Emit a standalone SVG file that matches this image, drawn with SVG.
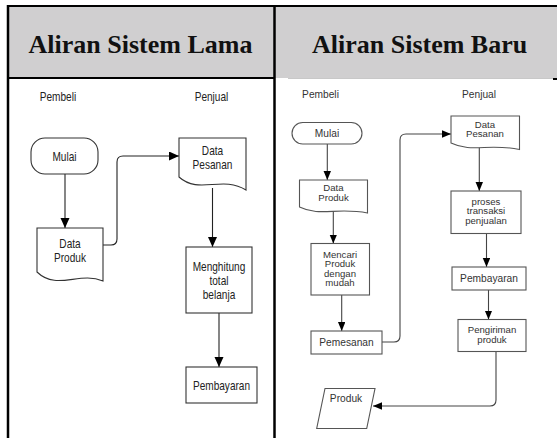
<svg xmlns="http://www.w3.org/2000/svg" width="557" height="438" viewBox="0 0 557 438">
<defs>
<style>
.hdr{font-family:"Liberation Serif","Times New Roman",serif;font-weight:bold;font-size:26px;fill:#111;text-anchor:middle}
.ot{font-family:"Liberation Sans",Arial,sans-serif;font-size:12.2px;fill:#222;text-anchor:middle}
.nt{font-family:"Liberation Sans",Arial,sans-serif;font-size:10.2px;fill:#333;text-anchor:middle}
.nm{font-size:9.6px}
.ob{fill:#fff;stroke:#333;stroke-width:1.1}
.nb{fill:#fff;stroke:#555;stroke-width:1.1}
.oc{fill:none;stroke:#222;stroke-width:1.1}
.nc{fill:none;stroke:#444;stroke-width:1.1}
.bd{stroke:#000;fill:none}
</style>
<marker id="ao" markerUnits="userSpaceOnUse" markerWidth="10" markerHeight="10" refX="10" refY="4.5" orient="auto">
<path d="M0,0 L10,4.5 L0,9 Z" fill="#000"/>
</marker>
<marker id="an" markerUnits="userSpaceOnUse" markerWidth="9" markerHeight="8" refX="9" refY="3.75" orient="auto">
<path d="M0,0 L9,3.75 L0,7.5 Z" fill="#000"/>
</marker>
</defs>
<rect width="557" height="438" fill="#fff"/>
<g id="table">
<rect x="8" y="6" width="549" height="72" fill="#d0cfd0"/>
<line class="bd" x1="7" y1="6" x2="557" y2="6" stroke-width="2"/>
<line class="bd" x1="8" y1="5" x2="8" y2="438" stroke-width="2.5"/>
<line class="bd" x1="274.5" y1="5" x2="274.5" y2="438" stroke-width="2.5"/>
<line class="bd" x1="8" y1="78" x2="274.5" y2="78" stroke-width="2"/>
<line x1="288" y1="78.5" x2="553" y2="78.5" stroke="#c8c8c8" stroke-width="1"/>
<line class="bd" x1="553" y1="79" x2="557" y2="79" stroke-width="2"/>
<text class="hdr" x="140.5" y="53">Aliran Sistem Lama</text>
<text class="hdr" x="419.6" y="53">Aliran Sistem Baru</text>
</g>
<g id="lanes-lama">
<text class="ot" x="58" y="101" textLength="36.4" lengthAdjust="spacingAndGlyphs">Pembeli</text>
<text class="ot" x="211.5" y="101" textLength="33.6" lengthAdjust="spacingAndGlyphs">Penjual</text>
</g>
<g id="lanes-baru">
<text class="nt" x="320.5" y="98">Pembeli</text>
<text class="nt" x="479" y="98">Penjual</text>
</g>
<g id="connectors">
<path class="oc" d="M65,174 V228" marker-end="url(#ao)"/>
<path class="oc" d="M103,245 H111 Q117,245 117,239 V162 Q117,156 123,156 H179" marker-end="url(#ao)"/>
<path class="oc" d="M212.5,188 V247" marker-end="url(#ao)"/>
<path class="oc" d="M219,313 V367" marker-end="url(#ao)"/>
<path class="nc" d="M327.3,144 V180" marker-end="url(#an)"/>
<path class="nc" d="M333.3,211 V243.5" marker-end="url(#an)"/>
<path class="nc" d="M341.7,295 V331" marker-end="url(#an)"/>
<path class="nc" d="M382,342 H394 Q400,342 400,336 V140 Q400,134 406,134 H451" marker-end="url(#an)"/>
<path class="nc" d="M479.3,147.5 V191" marker-end="url(#an)"/>
<path class="nc" d="M486.5,233.5 V267" marker-end="url(#an)"/>
<path class="nc" d="M488.5,290 V319.5" marker-end="url(#an)"/>
<path class="nc" d="M496,351.5 V400 Q496,406 490,406 H373" marker-end="url(#an)"/>
</g>
<g id="mulai-lama">
<rect class="ob" x="31" y="138" width="67" height="36" rx="14"/>
<text class="ot" x="64.5" y="160.5" textLength="24.1" lengthAdjust="spacingAndGlyphs">Mulai</text>
</g>
<g id="data-produk-lama">
<path class="ob" d="M37,228 H103 V281 C79.3,271 56.8,291 37,272 Z"/>
<text class="ot" x="70" y="248" textLength="21.3" lengthAdjust="spacingAndGlyphs">Data</text>
<text class="ot" x="70" y="262" textLength="31.9" lengthAdjust="spacingAndGlyphs">Produk</text>
</g>
<g id="data-pesanan-lama">
<path class="ob" d="M179,138 H246 V190 C221.9,175 199.1,195 179,177 Z"/>
<text class="ot" x="212.5" y="155" textLength="21.3" lengthAdjust="spacingAndGlyphs">Data</text>
<text class="ot" x="212.5" y="169" textLength="39.8" lengthAdjust="spacingAndGlyphs">Pesanan</text>
</g>
<g id="menghitung-lama">
<rect class="ob" x="186" y="247" width="66" height="66"/>
<text class="ot" x="219" y="271" textLength="52.7" lengthAdjust="spacingAndGlyphs">Menghitung</text>
<text class="ot" x="219" y="285" textLength="19.1" lengthAdjust="spacingAndGlyphs">total</text>
<text class="ot" x="219" y="299" textLength="32.5" lengthAdjust="spacingAndGlyphs">belanja</text>
</g>
<g id="pembayaran-lama">
<rect class="ob" x="186" y="367" width="71" height="36"/>
<text class="ot" x="221.5" y="389.5" textLength="57.1" lengthAdjust="spacingAndGlyphs">Pembayaran</text>
</g>
<g id="mulai-baru">
<rect class="nb" x="292" y="122.5" width="70" height="21.5" rx="10.75"/>
<text class="nt" x="327" y="137">Mulai</text>
</g>
<g id="data-produk-baru">
<path class="nb" d="M299.5,180 H367.5 V213 C337.1,207 319.9,217 299.5,207 Z"/>
<text class="nt nm" x="333.5" y="191.2">Data</text>
<text class="nt nm" x="333.5" y="200.8">Produk</text>
</g>
<g id="mencari-baru">
<rect class="nb" x="311" y="243.5" width="58.5" height="51.5"/>
<text class="nt nm" x="340" y="257.5">Mencari</text>
<text class="nt nm" x="340" y="267">Produk</text>
<text class="nt nm" x="340" y="276.5">dengan</text>
<text class="nt nm" x="340" y="286">mudah</text>
</g>
<g id="pemesanan-baru">
<rect class="nb" x="311" y="331" width="71" height="23"/>
<text class="nt" x="346.5" y="345.5">Pemesanan</text>
</g>
<g id="data-pesanan-baru">
<path class="nb" d="M451,116 H519.5 V149.5 C488.8,143 471.6,153 451,143 Z"/>
<text class="nt nm" x="485" y="127.8">Data</text>
<text class="nt nm" x="485" y="137.4">Pesanan</text>
</g>
<g id="proses-baru">
<rect class="nb" x="451" y="191" width="70" height="42.5"/>
<text class="nt nm" x="486" y="204.5">proses</text>
<text class="nt nm" x="486" y="214">transaksi</text>
<text class="nt nm" x="486" y="223.5">penjualan</text>
</g>
<g id="pembayaran-baru">
<rect class="nb" x="452" y="267" width="74" height="23"/>
<text class="nt" x="489" y="281.5">Pembayaran</text>
</g>
<g id="pengiriman-baru">
<rect class="nb" x="458" y="319.5" width="68" height="32"/>
<text class="nt nm" x="492" y="333">Pengiriman</text>
<text class="nt nm" x="492" y="342.5">produk</text>
</g>
<g id="produk-baru">
<polygon class="nb" points="325,388.5 375,388.5 366.7,428.5 316.7,428.5"/>
<text class="nt" x="346" y="402">Produk</text>
</g>
</svg>
